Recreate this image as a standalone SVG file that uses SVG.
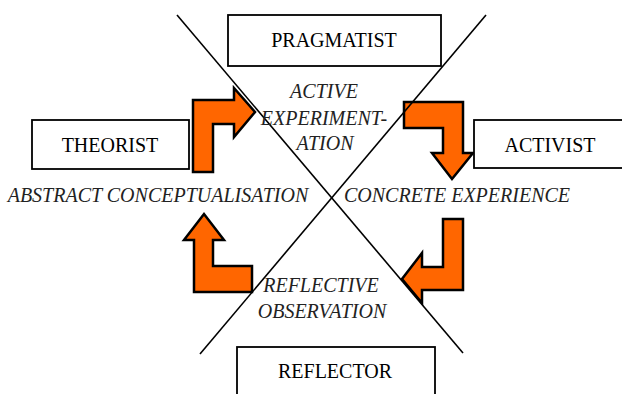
<svg xmlns="http://www.w3.org/2000/svg" width="622" height="394" viewBox="0 0 622 394">
<defs>
<polygon id="dummy" points="0,0"/>
</defs>
<g id="connectors" fill="#FF6600" stroke="#000" stroke-width="2.5">
<polygon points="193,172 193,100 234,100 234,88 255,112 234,137 234,124 213,124 213,172"/>
<polygon points="404,102 463,102 463,153 473,153 452,179 432,153 443,153 443,128 404,128"/>
<polygon points="443,219 463,219 463,290 422,290 422,303 402,279 422,253 422,267 443,267"/>
<polygon points="252,266 252,292 194,292 194,240 184,240 204,214 224,240 213,240 213,266"/>
</g>
<g id="axes" stroke="#000" stroke-width="1.6">
<line x1="177" y1="15" x2="463" y2="353"/>
<line x1="486" y1="15" x2="200" y2="354"/>
</g>
<g font-family="Liberation Serif" font-size="20" text-anchor="middle">
<g id="pragmatist">
<rect x="228" y="15" width="213" height="51" fill="#fff" stroke="#000" stroke-width="1.8"/>
<text x="334" y="47">PRAGMATIST</text>
</g>
<g id="theorist">
<rect x="32" y="120" width="157" height="49" fill="#fff" stroke="#000" stroke-width="1.8"/>
<text x="110" y="152">THEORIST</text>
</g>
<g id="activist">
<rect x="474" y="120" width="150" height="48" fill="#fff" stroke="#000" stroke-width="1.8"/>
<text x="550" y="152">ACTIVIST</text>
</g>
<g id="reflector">
<rect x="237" y="347" width="198" height="60" fill="#fff" stroke="#000" stroke-width="1.8"/>
<text x="335" y="378">REFLECTOR</text>
</g>
<g font-style="italic" fill="#222">
<g id="active-experimentation">
<text x="324" y="98">ACTIVE</text>
<text x="324" y="125">EXPERIMENT-</text>
<text x="325" y="150">ATION</text>
</g>
<g id="abstract-conceptualisation">
<text x="158" y="202">ABSTRACT CONCEPTUALISATION</text>
</g>
<g id="concrete-experience">
<text x="457" y="202">CONCRETE EXPERIENCE</text>
</g>
<g id="reflective-observation">
<text x="321" y="292">REFLECTIVE</text>
<text x="322" y="318">OBSERVATION</text>
</g>
</g>
</g>
</svg>
